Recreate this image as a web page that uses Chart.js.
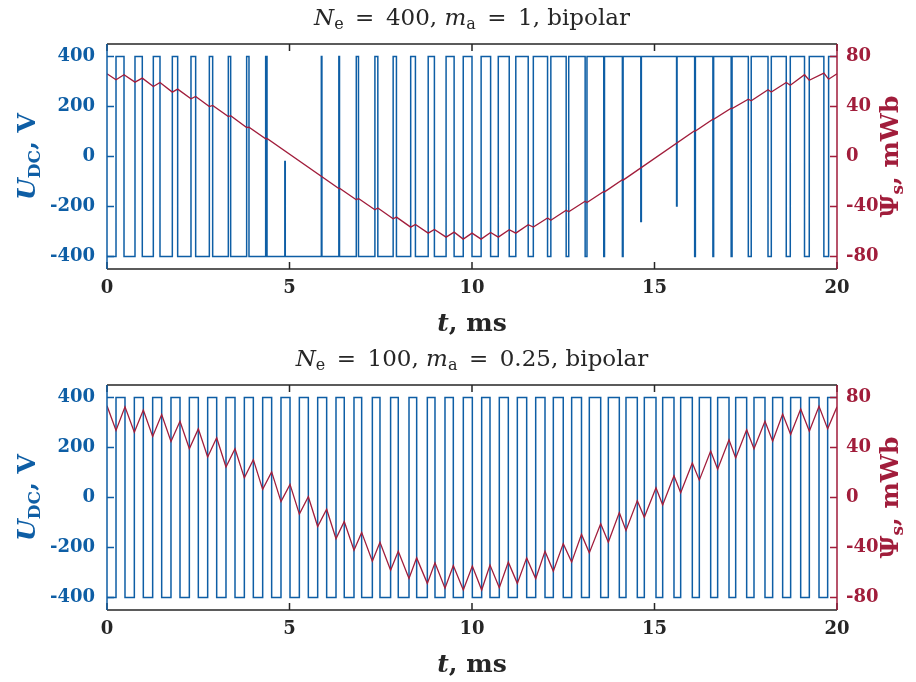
<!DOCTYPE html>
<html>
<head>
<meta charset="utf-8">
<script src="https://cdn.jsdelivr.net/npm/chart.js@4.4.1/dist/chart.umd.min.js"></script>
<style>
  body { margin: 0; background: #fff; }
  canvas { display: block; }
</style>
</head>
<body>
<canvas id="chartTop" width="916" height="341"></canvas>
<canvas id="chartBottom" width="916" height="341"></canvas>
<script>
// tick values
const xTicks = [0, 5, 10, 15, 20];
const uTicks = [-400, -200, 0, 200, 400];
const psiTicks = [-80, -40, 0, 40, 80];

// DC voltage levels, V
const uHigh = 400;
const uLow = -400;

// --- N_e = 400, m_a = 1 : switching instants (ms)
const topRise = [0.247, 0.767, 1.269, 1.790, 2.301, 2.804, 3.324, 3.826, 4.347, 5.872, 6.352, 6.83, 7.34, 7.84, 8.32, 8.80, 9.29, 9.76, 10.25, 10.72, 11.20, 11.68, 12.16, 12.65, 13.15, 13.63, 14.14, 16.12, 16.62, 17.125, 17.65, 18.20, 18.72, 19.24, 19.77];
const topFall = [0.466, 0.967, 1.452, 1.936, 2.429, 2.895, 3.388, 3.890, 4.384, 5.888, 6.370, 6.89, 7.42, 7.93, 8.45, 8.97, 9.51, 10.00, 10.51, 11.02, 11.54, 12.07, 12.58, 13.10, 13.61, 14.12, 16.10, 16.60, 17.10, 17.57, 18.11, 18.61, 19.11, 19.64];
// short pulses that do not reach the full level
const topSpikeT = [4.872, 4.884, 14.625, 14.640, 15.605, 15.618];
const topSpikeU = [-20, -400, -260, 400, -198, 400];
// stator flux, mWb
const topPsiT = [0, 0.247, 0.466, 0.767, 0.967, 1.269, 1.452, 1.790, 1.936, 2.301, 2.429, 2.804, 2.895, 3.324, 3.388, 3.826, 3.890, 4.347, 4.384, 6.352, 6.370, 6.83, 6.89, 7.34, 7.42, 7.84, 7.93, 8.32, 8.45, 8.80, 8.97, 9.29, 9.51, 9.76, 10.00, 10.25, 10.51, 10.72, 11.02, 11.20, 11.54, 11.68, 12.07, 12.16, 12.58, 12.65, 13.10, 13.15, 13.61, 13.63, 14.12, 14.14, 16.10, 16.12, 16.60, 16.62, 17.10, 17.125, 17.57, 17.65, 18.11, 18.20, 18.61, 18.72, 19.11, 19.24, 19.64, 19.77, 20];
const topPsiV = [66.2, 61.4, 65.4, 59.5, 62.7, 56.0, 59.2, 51.5, 53.9, 46.2, 48.0, 40.0, 40.8, 32.0, 32.6, 23.2, 23.5, 14.2, 14.4, -25.6, -25.4, -34.6, -33.6, -42.6, -41.2, -49.8, -48.5, -56.5, -54.4, -61.3, -58.4, -64.5, -60.5, -66.1, -61.3, -66.1, -60.8, -64.5, -58.6, -61.3, -54.6, -56.5, -49.2, -51.0, -43.0, -44.2, -35.8, -36.8, -28.0, -28.3, -18.6, -18.9, 20.6, 20.4, 29.9, 29.7, 38.7, 38.4, 45.9, 44.6, 53.4, 51.6, 59.2, 57.0, 65.4, 61.0, 66.7, 61.8, 66.2];

// --- N_e = 100, m_a = 0.25
const botRise = [0.247, 0.749, 1.251, 1.753, 2.256, 2.758, 3.26, 3.763, 4.265, 4.767, 5.27, 5.772, 6.274, 6.767, 7.27, 7.77, 8.274, 8.776, 9.26, 9.762, 10.265, 10.748, 11.242, 11.745, 12.228, 12.73, 13.214, 13.735, 14.219, 14.721, 15.224, 15.717, 16.228, 16.73, 17.224, 17.726, 18.237, 18.73, 19.242, 19.744];
const botFall = [0.493, 0.995, 1.498, 2.0, 2.502, 3.005, 3.507, 4.009, 4.511, 5.014, 5.516, 6.018, 6.50, 6.977, 7.479, 7.98, 8.484, 8.986, 9.488, 10.009, 10.493, 10.995, 11.498, 12.0, 12.5, 13.0, 13.526, 14.036, 14.529, 15.041, 15.534, 16.036, 16.539, 17.041, 17.525, 18.027, 18.511, 19.005, 19.507];
const botPsiT = [0, 0.247, 0.493, 0.749, 0.995, 1.251, 1.498, 1.753, 2.0, 2.256, 2.502, 2.758, 3.005, 3.26, 3.507, 3.763, 4.009, 4.265, 4.511, 4.767, 5.014, 5.27, 5.516, 5.772, 6.018, 6.274, 6.50, 6.767, 6.977, 7.27, 7.479, 7.77, 7.98, 8.274, 8.484, 8.776, 8.986, 9.26, 9.488, 9.762, 10.009, 10.265, 10.493, 10.748, 10.995, 11.242, 11.498, 11.745, 12.0, 12.228, 12.5, 12.73, 13.0, 13.214, 13.526, 13.735, 14.036, 14.219, 14.529, 14.721, 15.041, 15.224, 15.534, 15.717, 16.036, 16.228, 16.539, 16.73, 17.041, 17.224, 17.525, 17.726, 18.027, 18.237, 18.511, 18.73, 19.005, 19.242, 19.507, 19.744, 20];
const botPsiV = [73.4, 53.6, 72.6, 52.2, 70.0, 48.8, 66.3, 44.8, 61.0, 39.0, 54.9, 32.4, 47.8, 24.4, 39.0, 15.7, 30.3, 6.5, 20.5, -3.3, 10.5, -13.3, 0.6, -23.2, -9.4, -32.9, -19.2, -42.2, -27.9, -50.9, -35.8, -58.1, -43.0, -64.7, -48.3, -68.7, -52.2, -72.6, -54.4, -74.0, -54.9, -74.0, -54.1, -72.1, -51.7, -68.7, -48.3, -64.9, -43.0, -58.9, -36.9, -51.7, -29.5, -44.3, -21.0, -35.8, -12.0, -26.3, -2.5, -15.8, 7.8, -6.0, 17.3, 3.8, 27.6, 13.9, 37.1, 22.6, 46.2, 31.6, 54.1, 39.0, 61.0, 45.1, 66.8, 50.4, 70.8, 53.0, 72.9, 54.9, 72.6];

const BLUE = "#0E5EA5";
const RED = "#A11D3B";
const DARK = "#262626";
const SERIF = "'DejaVu Serif', 'Liberation Serif', serif";

function squareWave(rise, fall, spikeT, spikeU) {
  const pts = [{x: 0, y: uLow}];
  rise.forEach(t => pts.push({x: t, y: uHigh}));
  fall.forEach(t => pts.push({x: t, y: uLow}));
  spikeT.forEach((t, i) => pts.push({x: t, y: spikeU[i]}));
  pts.sort((a, b) => a.x - b.x);
  pts.push({x: 20, y: pts[pts.length - 1].y});
  return pts;
}

function zip(ts, vs) {
  return ts.map((t, i) => ({x: t, y: vs[i]}));
}

// draw a row of differently styled text pieces, centred on x
function drawRuns(ctx, runs, x, y) {
  let total = 0;
  runs.forEach(r => { ctx.font = r.font; r.w = ctx.measureText(r.text).width; total += r.w; });
  let cx = x - total / 2;
  ctx.textAlign = "left";
  ctx.textBaseline = "alphabetic";
  runs.forEach(r => { ctx.font = r.font; ctx.fillText(r.text, cx, y + (r.dy || 0)); cx += r.w; });
}

const fTitle = "23px " + SERIF;
const fTitleI = "italic 23px " + SERIF;
const fTitleSub = "16px " + SERIF;
const fLab = "bold 25px " + SERIF;
const fLabI = "italic bold 25px " + SERIF;
const fLabSub = "bold 17px " + SERIF;

const xLabel = [{text: "t", font: fLabI}, {text: ", ms", font: fLab}];
const uLabel = [{text: "U", font: fLabI}, {text: "DC", font: fLabSub, dy: 5}, {text: ", V", font: fLab}];
const psiLabel = [{text: "\u03A8", font: fLab}, {text: "s", font: fLabSub, dy: 5}, {text: ", mWb", font: fLab}];

function framePlugin(titleRuns) {
  return {
    id: "frame",
    afterDraw(chart) {
      const ctx = chart.ctx;
      const a = chart.chartArea;
      const sx = chart.scales.x, sl = chart.scales.yL, sr = chart.scales.yR;
      const tl = 7;
      ctx.save();
      ctx.lineWidth = 1.5;
      // top and bottom frame with inward ticks
      ctx.strokeStyle = DARK;
      ctx.beginPath();
      ctx.moveTo(a.left, a.top); ctx.lineTo(a.right, a.top);
      ctx.moveTo(a.left, a.bottom); ctx.lineTo(a.right, a.bottom);
      xTicks.forEach(v => {
        const px = sx.getPixelForValue(v);
        ctx.moveTo(px, a.bottom); ctx.lineTo(px, a.bottom - tl);
        ctx.moveTo(px, a.top); ctx.lineTo(px, a.top + tl);
      });
      ctx.stroke();
      // left axis
      ctx.strokeStyle = BLUE;
      ctx.beginPath();
      ctx.moveTo(a.left, a.top); ctx.lineTo(a.left, a.bottom);
      uTicks.forEach(v => {
        const py = sl.getPixelForValue(v);
        ctx.moveTo(a.left, py); ctx.lineTo(a.left + tl, py);
      });
      ctx.stroke();
      // right axis
      ctx.strokeStyle = RED;
      ctx.beginPath();
      ctx.moveTo(a.right, a.top); ctx.lineTo(a.right, a.bottom);
      psiTicks.forEach(v => {
        const py = sr.getPixelForValue(v);
        ctx.moveTo(a.right, py); ctx.lineTo(a.right - tl, py);
      });
      ctx.stroke();

      const cx = (a.left + a.right) / 2;
      const cy = (a.top + a.bottom) / 2;
      ctx.fillStyle = DARK;
      drawRuns(ctx, titleRuns, cx, 25);
      drawRuns(ctx, xLabel, cx, a.bottom + 62);

      ctx.fillStyle = BLUE;
      ctx.save();
      ctx.translate(35, cy);
      ctx.rotate(-Math.PI / 2);
      drawRuns(ctx, uLabel, 0, 0);
      ctx.restore();

      ctx.fillStyle = RED;
      ctx.save();
      ctx.translate(898, cy);
      ctx.rotate(-Math.PI / 2);
      drawRuns(ctx, psiLabel, 0, 0);
      ctx.restore();
      ctx.restore();
    }
  };
}

function tickOpts(color, padding) {
  return { color: color, padding: padding, font: { family: SERIF, size: 18, weight: "bold" } };
}

function createChart(canvas, u, psi, titleRuns) {
  return new Chart(canvas, {
    type: "line",
    data: {
      datasets: [
        { label: "psi", data: psi, yAxisID: "yR", borderColor: RED, borderWidth: 1.3, pointRadius: 0, tension: 0 },
        { label: "u", data: u, yAxisID: "yL", stepped: true, borderColor: BLUE, borderWidth: 1.5, pointRadius: 0 }
      ]
    },
    options: {
      responsive: false,
      animation: false,
      devicePixelRatio: 1,
      layout: { padding: { top: 44, left: 0, right: 0, bottom: 0 } },
      plugins: { legend: { display: false }, tooltip: { enabled: false } },
      scales: {
        x: {
          type: "linear", min: 0, max: 20,
          afterBuildTicks: s => { s.ticks = xTicks.map(v => ({value: v})); },
          afterFit: s => { s.height = 72; },
          grid: { display: false, drawTicks: false }, border: { display: false },
          ticks: Object.assign(tickOpts(DARK, 9), { maxRotation: 0, autoSkip: false })
        },
        yL: {
          position: "left", min: -450, max: 450,
          afterBuildTicks: s => { s.ticks = uTicks.map(v => ({value: v})); },
          afterFit: s => { s.width = 107; },
          grid: { display: false, drawTicks: false }, border: { display: false },
          ticks: tickOpts(BLUE, 12)
        },
        yR: {
          position: "right", min: -90, max: 90,
          afterBuildTicks: s => { s.ticks = psiTicks.map(v => ({value: v})); },
          afterFit: s => { s.width = 79; },
          grid: { display: false, drawTicks: false }, border: { display: false },
          ticks: tickOpts(RED, 9)
        }
      }
    },
    plugins: [framePlugin(titleRuns)]
  });
}

function titleRuns(ne, ma) {
  const eq = "\u2002=\u2002";
  return [
    {text: "N", font: fTitleI}, {text: "e", font: fTitleSub, dy: 4},
    {text: eq + ne + ", ", font: fTitle},
    {text: "m", font: fTitleI}, {text: "a", font: fTitleSub, dy: 4},
    {text: eq + ma + ", bipolar", font: fTitle}
  ];
}

createChart(document.getElementById("chartTop"),
  squareWave(topRise, topFall, topSpikeT, topSpikeU), zip(topPsiT, topPsiV), titleRuns("400", "1"));
createChart(document.getElementById("chartBottom"),
  squareWave(botRise, botFall, [], []), zip(botPsiT, botPsiV), titleRuns("100", "0.25"));
</script>
</body>
</html>
